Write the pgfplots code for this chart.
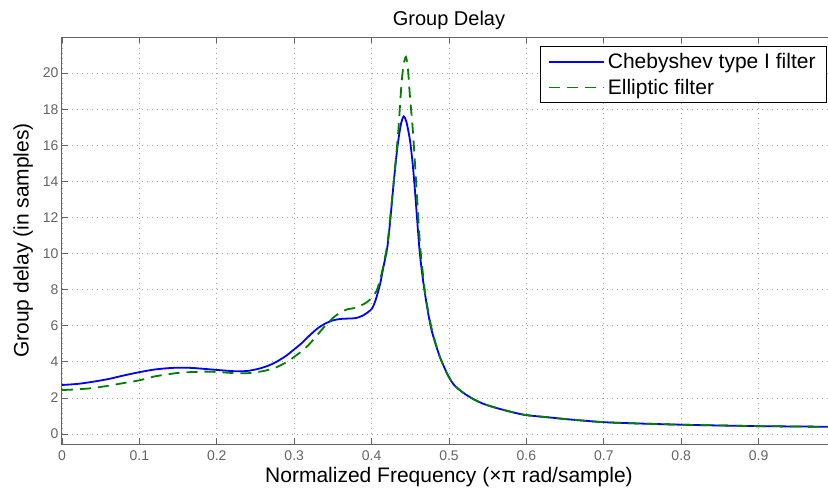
\documentclass[border=0pt]{standalone}
\usepackage{fontspec}
\setmainfont{Liberation Sans}
\usepackage{pgfplots}
\pgfplotsset{compat=1.18}
\definecolor{axgray}{RGB}{100,100,100}
\definecolor{mgreen}{RGB}{0,128,0}
\begin{document}
\begin{tikzpicture}
\begin{axis}[
  scale only axis, width=774pt, height=407pt,
  xmin=0, xmax=1, ymin=-0.55, ymax=22,
  xtick={0,0.1,0.2,0.3,0.4,0.5,0.6,0.7,0.8,0.9,1},
  xticklabels={0,0.1,0.2,0.3,0.4,0.5,0.6,0.7,0.8,0.9,{}},
  ytick={0,2,4,6,8,10,12,14,16,18,20},
  /pgf/number format/assume math mode=true,
  tick label style={font=\fontsize{14}{16}\selectfont, text=axgray},
  xticklabel style={yshift=-3pt},
  tick align=inside,
  major tick length=6pt,
  tick style={axgray, line width=0.8pt},
  axis line style={axgray, line width=1pt},
  grid=major,
  grid style={axgray!60, line width=0.8pt, dash pattern=on 0.8pt off 4.2pt},
  title={Group Delay},
  title style={font=\fontsize{20}{24}\selectfont, yshift=-2pt},
  xlabel={Normalized Frequency (×π rad/sample)},
  ylabel={Group delay (in samples)},
  label style={font=\fontsize{21}{25}\selectfont},
  ylabel style={yshift=3pt},
  legend style={at={(1,1)}, anchor=north east, xshift=-9pt, yshift=-9pt,
    draw=black, line width=0.8pt, font=\fontsize{21}{25}\selectfont,
    inner xsep=8pt, inner ysep=5pt, row sep=5pt,
    nodes={inner xsep=3pt}},
  legend cell align=left,
  legend image code/.code={\draw[#1] (0pt,0pt) -- (55pt,0pt);},
]
\addplot[blue, line width=1.8pt, smooth, tension=0.45] coordinates {
(0.00,2.72) (0.02,2.78) (0.04,2.90) (0.06,3.05) (0.08,3.25) (0.10,3.43)
(0.12,3.58) (0.14,3.66) (0.155,3.68) (0.17,3.66) (0.19,3.59) (0.21,3.52)
(0.225,3.48) (0.24,3.50) (0.256,3.64) (0.267,3.80) (0.277,4.00) (0.29,4.35)
(0.299,4.66) (0.31,5.05) (0.3195,5.45) (0.33,5.85) (0.34,6.12) (0.35,6.30)
(0.36,6.38) (0.37,6.40) (0.38,6.43) (0.39,6.60) (0.40,6.93) (0.405,7.40)
(0.411,8.32) (0.415,9.20) (0.4203,10.35) (0.424,11.80) (0.428,13.68)
(0.4315,15.20) (0.4345,16.27) (0.438,17.20) (0.4415,17.60) (0.445,17.30)
(0.4496,16.27) (0.453,15.00) (0.456,13.50) (0.4616,10.35) (0.465,9.00)
(0.469,7.76) (0.4735,6.60) (0.4776,5.73) (0.483,4.95) (0.4884,4.25)
(0.497,3.40) (0.5056,2.77) (0.518,2.30) (0.5314,1.94) (0.546,1.65)
(0.566,1.39) (0.585,1.18) (0.60,1.05) (0.63,0.92) (0.656,0.81) (0.70,0.66)
(0.75,0.58) (0.80,0.52) (0.85,0.475) (0.90,0.44) (0.95,0.42) (1.00,0.40)
};
\addlegendentry{Chebyshev type I filter}
\addplot[mgreen, line width=1.8pt, dash pattern=on 11pt off 7pt, smooth, tension=0.45] coordinates {
(0.00,2.44) (0.02,2.48) (0.04,2.55) (0.06,2.68) (0.084,2.86) (0.10,2.98)
(0.118,3.18) (0.135,3.30) (0.152,3.40) (0.17,3.44) (0.187,3.46) (0.205,3.43)
(0.221,3.38) (0.239,3.37) (0.256,3.46) (0.267,3.56) (0.277,3.70) (0.29,3.98)
(0.30,4.28) (0.31,4.60) (0.32,5.00) (0.331,5.55) (0.34,6.00) (0.35,6.43)
(0.36,6.75) (0.37,6.93) (0.38,7.00) (0.3937,7.30) (0.40,7.55) (0.4066,7.95)
(0.413,8.90) (0.4203,10.50) (0.424,12.00) (0.428,13.70) (0.4315,15.30)
(0.4345,16.80) (0.437,18.40) (0.439,19.60) (0.4415,20.50) (0.4444,20.90)
(0.447,20.20) (0.4496,18.67) (0.452,17.50) (0.4539,16.45) (0.4582,13.50)
(0.4625,10.54) (0.466,9.00) (0.469,7.85) (0.4735,6.70) (0.4776,5.85)
(0.483,4.98) (0.4884,4.25) (0.497,3.40) (0.5056,2.77) (0.518,2.30)
(0.5314,1.94) (0.546,1.65) (0.566,1.39) (0.585,1.18) (0.60,1.05) (0.63,0.92)
(0.656,0.81) (0.70,0.66) (0.75,0.58) (0.80,0.52) (0.85,0.475) (0.90,0.44)
(0.95,0.42) (1.00,0.40)
};
\addlegendentry{Elliptic filter}
\coordinate (bbl) at (rel axis cs:0,0);
\coordinate (bbr) at (axis cs:0.98966,22);
\end{axis}
\pgfresetboundingbox
\useasboundingbox ([shift={(-62pt,-49pt)}]bbl) rectangle ([shift={(0pt,37pt)}]bbr);
\end{tikzpicture}
\end{document}
